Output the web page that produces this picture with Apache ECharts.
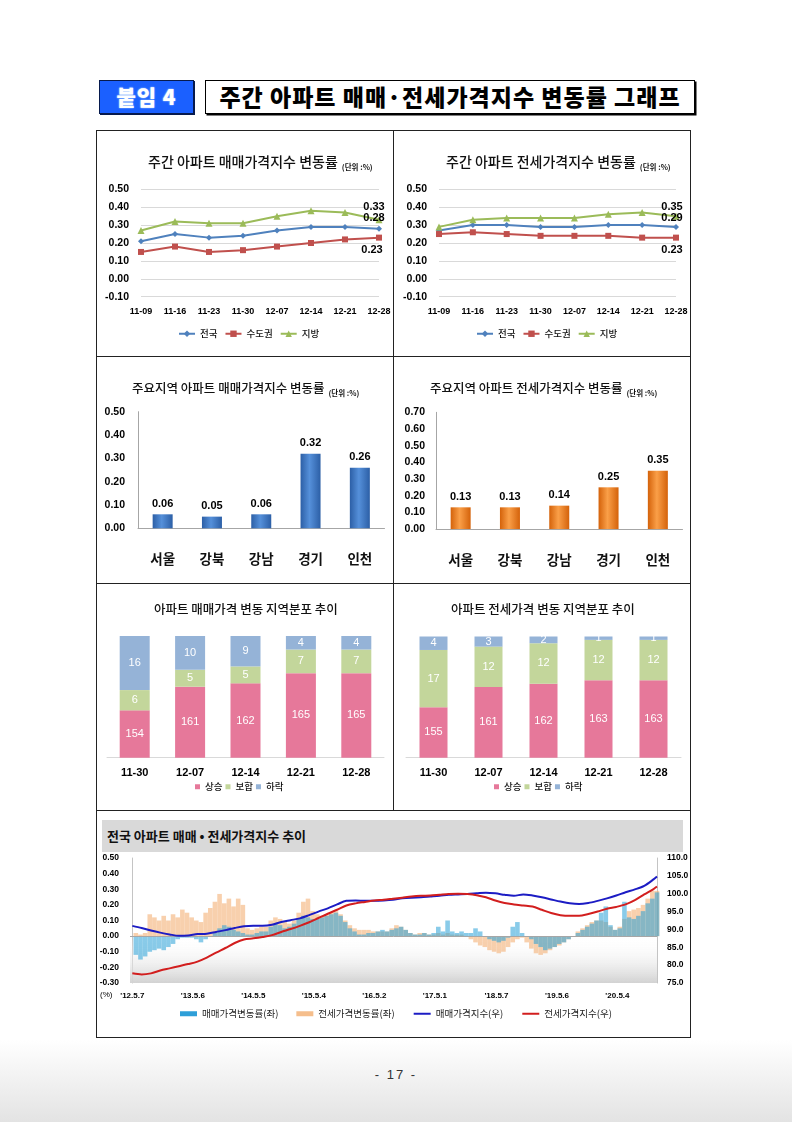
<!DOCTYPE html>
<html><head><meta charset="utf-8">
<script src="https://cdn.jsdelivr.net/npm/echarts@6/dist/echarts.min.js"></script>
<style>
html,body{margin:0;padding:0;background:#fff;}
#page{position:relative;width:792px;height:1122px;overflow:hidden;background:#fff;font-family:'Noto Sans CJK KR','Noto Sans',sans-serif;}
.abs{position:absolute;}
.badge{left:99px;top:80px;width:95px;height:34px;background:#1b60ff;border:1px solid #071a4d;box-sizing:border-box;box-shadow:1px 1px 0 #071a4d;color:#fff;font-weight:900;font-size:21px;line-height:31px;text-align:center;letter-spacing:1px;text-shadow:0 0 2px #7fb0ff,0 0 1px #cfe2ff;}
.hbox{left:205px;top:80px;width:490px;height:34px;border:1.5px solid #000;box-sizing:border-box;box-shadow:1.5px 1.5px 0 #000;background:#fff;color:#000;font-weight:900;font-size:23px;line-height:31px;text-align:center;letter-spacing:1px;}
.frame{left:96px;top:130px;width:595px;height:908px;border:1px solid #222;box-sizing:border-box;}
.vl{left:393px;top:130px;width:1px;height:680px;background:#222;}
.hl{left:96px;width:595px;height:1px;background:#222;}
.tbar{left:102px;top:820px;width:581px;height:32px;background:#d9d9d9;}
.ttxt{left:107px;top:820px;height:32px;line-height:32px;font-size:13px;font-weight:bold;color:#111;}
.foot{left:0;width:792px;top:1067px;text-align:center;font-family:'Liberation Sans',Arial,sans-serif;font-size:13px;color:#333;letter-spacing:2px;}
.shade{left:0;top:1040px;width:792px;height:82px;background:linear-gradient(to bottom,#ffffff,#e3e3e3);}
#chart{position:absolute;left:0;top:0;width:792px;height:1122px;}
</style></head>
<body><div id="page">
<div class="abs shade"></div>
<div class="abs badge">붙임 4</div>
<div class="abs hbox">주간 아파트 매매·전세가격지수 변동률 그래프</div>
<div class="abs frame"></div>
<div class="abs vl"></div>
<div class="abs hl" style="top:356px"></div>
<div class="abs hl" style="top:583px"></div>
<div class="abs hl" style="top:810px"></div>
<div class="abs tbar"></div>
<div class="abs ttxt">전국 아파트 매매 • 전세가격지수 추이</div>
<div class="abs foot">- 17 -</div>
<div id="chart"></div>
</div>
<script>
// ---------- data ----------
const lineCats = ['11-09','11-16','11-23','11-30','12-07','12-14','12-21','12-28'];
const saleNation = [0.21,0.25,0.23,0.24,0.27,0.29,0.29,0.28];
const saleMetro  = [0.15,0.18,0.15,0.16,0.18,0.20,0.22,0.23];
const saleLocal  = [0.27,0.32,0.31,0.31,0.35,0.38,0.37,0.33];
const jeonseNation = [0.27,0.30,0.30,0.29,0.29,0.30,0.30,0.29];
const jeonseMetro  = [0.25,0.26,0.25,0.24,0.24,0.24,0.23,0.23];
const jeonseLocal  = [0.29,0.33,0.34,0.34,0.34,0.36,0.37,0.35];

const regions = ['서울','강북','강남','경기','인천'];
const regionSale   = [0.06,0.05,0.06,0.32,0.26];
const regionJeonse = [0.13,0.13,0.14,0.25,0.35];

const distCats = ['11-30','12-07','12-14','12-21','12-28'];
const saleUp   = [154,161,162,165,165];
const saleFlat = [6,5,5,7,7];
const saleDown = [16,10,9,4,4];
const jeonseUp   = [155,161,162,163,163];
const jeonseFlat = [17,12,12,12,12];
const jeonseDown = [4,3,2,1,1];

// long-run chart: weeks counted from 2012-05-07
const trendTickWeeks  = [0,52,104,156,208,260,313,365,417];
const trendTickLabels = ["'12.5.7","'13.5.6","'14.5.5","'15.5.4","'16.5.2","'17.5.1","'18.5.7","'19.5.6","'20.5.4"];
const idxWeeks = [0,8,16,24,32,40,48,56,64,72,80,88,96,104,112,120,128,136,144,152,160,168,176,184,192,200,208,216,224,232,240,248,256,264,272,280,288,296,304,312,320,328,336,344,352,360,368,376,384,392,400,408,416,424,432,440,448,451];
const saleIndex = [91.0,90.4,89.7,89.1,88.6,88.2,88.3,88.7,88.8,89.3,
  89.8,90.4,90.9,91.0,91.0,91.3,92.1,92.6,93.1,94.0,
  95.0,95.9,97.0,98.0,98.1,98.0,98.0,98.1,98.3,98.7,
  98.9,99.0,99.2,99.4,99.7,99.8,99.9,100.1,100.3,100.1,
  99.7,99.4,99.8,99.5,99.0,98.4,97.8,97.3,97.1,97.4,
  98.0,98.7,99.5,100.4,101.2,102.2,104.0,104.8];
const jeonseIndex = [77.7,77.4,77.7,78.5,79.1,79.7,80.3,81.0,82.1,83.5,
  84.8,86.2,87.2,87.5,87.9,88.4,89.3,90.1,91.0,92.0,
  93.2,94.4,95.5,96.7,97.3,97.7,98.1,98.3,98.6,98.9,
  99.2,99.4,99.5,99.7,99.9,100.0,99.9,99.6,99.0,98.1,
  97.4,97.0,96.7,96.4,95.5,94.6,94.0,93.8,93.8,94.3,
  95.0,95.8,96.3,97.0,98.2,99.8,101.3,102.0];
const rateFirstWeek = 3, rateStepWeeks = 4;
const saleRate = [-0.12,-0.15,-0.13,-0.10,-0.09,-0.08,-0.09,-0.07,-0.05,-0.02,
  -0.01,-0.01,-0.01,-0.02,-0.04,-0.02,0.00,0.02,0.05,0.07,
  0.06,0.04,0.03,0.02,0.01,0.01,0.02,0.03,0.03,0.06,
  0.08,0.07,0.05,0.06,0.08,0.11,0.13,0.12,0.11,0.11,
  0.12,0.13,0.14,0.15,0.13,0.09,0.05,0.03,0.01,0.01,
  0.02,0.02,0.03,0.04,0.03,0.04,0.05,0.06,0.04,0.02,
  0.01,0.01,0.02,0.01,0.02,0.06,0.03,0.10,0.03,0.02,
  0.03,0.02,0.02,0.05,0.03,0.00,-0.02,-0.03,-0.04,-0.03,
  -0.01,0.06,0.09,0.02,0.00,-0.02,-0.05,-0.07,-0.09,-0.08,
  -0.07,-0.05,-0.04,-0.02,0.00,0.02,0.04,0.06,0.08,0.10,
  0.15,0.19,0.07,0.04,0.05,0.22,0.12,0.11,0.13,0.16,
  0.21,0.24,0.28];
const jeonseRate = [0.02,0.01,0.02,0.14,0.12,0.10,0.13,0.10,0.14,0.12,
  0.17,0.15,0.12,0.10,0.09,0.15,0.18,0.22,0.27,0.21,
  0.24,0.19,0.24,0.20,0.05,0.04,0.05,0.06,0.06,0.10,
  0.12,0.11,0.09,0.08,0.10,0.15,0.22,0.24,0.16,0.14,
  0.13,0.14,0.15,0.16,0.14,0.10,0.07,0.05,0.04,0.04,
  0.04,0.03,0.03,0.03,0.03,0.05,0.07,0.06,0.04,0.02,
  0.01,0.02,0.02,0.01,0.01,0.02,0.01,0.02,0.01,0.01,
  0.01,0.00,-0.02,-0.04,-0.06,-0.07,-0.09,-0.10,-0.11,-0.10,
  -0.07,-0.04,-0.02,-0.01,-0.04,-0.08,-0.11,-0.12,-0.11,-0.09,
  -0.07,-0.06,-0.04,-0.02,0.00,0.03,0.05,0.07,0.09,0.10,
  0.10,0.09,0.06,0.04,0.06,0.11,0.16,0.17,0.18,0.20,
  0.24,0.29,0.29];

// ---------- styles ----------
const NUM = "'Liberation Sans', Arial, sans-serif";
const KR = "'Noto Sans CJK KR', 'Noto Sans', sans-serif";
const C_BLUE = '#4F81BD', C_RED = '#C0504D', C_GREEN = '#9BBB59';
const C_UP = '#E6789A', C_FLAT = '#C3D69B', C_DOWN = '#95B3D7';

function lastLabel(arr, cfg) {
  return arr.map((v, i) => i === arr.length - 1 ? {
    value: v,
    label: Object.assign({show: true, fontFamily: NUM, fontWeight: 'bold', fontSize: 11, color: '#000',
      formatter: p => Number(p.value).toFixed(2)}, cfg)
  } : v);
}
function weeklyLine(name, data, color, symbol, size, axis, labelCfg) {
  return {type: 'line', name, xAxisIndex: axis, yAxisIndex: axis, data: lastLabel(data, labelCfg),
    symbol, symbolSize: size, showSymbol: true, lineStyle: {color, width: 2}, itemStyle: {color}, z: 3};
}
function lineXAxis(gi) {
  return {gridIndex: gi, type: 'category', data: lineCats, boundaryGap: false,
    axisLine: {show: false}, axisTick: {show: false}, splitLine: {show: false},
    axisLabel: {interval: 0, margin: 10, fontFamily: NUM, fontWeight: 'bold', fontSize: 9, color: '#000'}};
}
function lineYAxis(gi) {
  return {gridIndex: gi, type: 'value', min: -0.1, max: 0.5, interval: 0.1,
    axisLine: {show: false}, axisTick: {show: false},
    splitLine: {show: true, lineStyle: {color: '#D9D9D9', width: 1}},
    axisLabel: {margin: 12, fontFamily: NUM, fontWeight: 'bold', fontSize: 10.5, color: '#000', formatter: v => v.toFixed(2)}};
}
function regionXAxis(gi) {
  return {gridIndex: gi, type: 'category', data: regions,
    axisLine: {show: true, lineStyle: {color: '#A6A6A6'}}, axisTick: {show: false},
    axisLabel: {interval: 0, margin: 24, fontFamily: KR, fontWeight: 'bold', fontSize: 13.5, color: '#111'}};
}
function regionYAxis(gi, max, margin) {
  return {gridIndex: gi, type: 'value', min: 0, max, interval: 0.1,
    axisLine: {show: true, lineStyle: {color: '#A6A6A6'}}, axisTick: {show: false}, splitLine: {show: false},
    axisLabel: {margin, fontFamily: NUM, fontWeight: 'bold', fontSize: 10.5, color: '#000', formatter: v => v.toFixed(2)}};
}
function distXAxis(gi) {
  return {gridIndex: gi, type: 'category', data: distCats,
    axisLine: {show: true, lineStyle: {color: '#D9D9D9'}}, axisTick: {show: false},
    axisLabel: {interval: 0, margin: 10, fontFamily: NUM, fontWeight: 'bold', fontSize: 11, color: '#000'}};
}
function barGrad(edge, mid) {
  return {type: 'linear', x: 0, y: 0, x2: 1, y2: 0,
    colorStops: [{offset: 0, color: edge}, {offset: 0.45, color: mid}, {offset: 1, color: edge}]};
}
function regionBar(name, data, axis, edge, mid) {
  return {type: 'bar', name, xAxisIndex: axis, yAxisIndex: axis, data, barWidth: 20,
    itemStyle: {color: barGrad(edge, mid)},
    label: {show: true, position: 'top', distance: 5, fontFamily: NUM, fontWeight: 'bold', fontSize: 11, color: '#000',
      formatter: p => Number(p.value).toFixed(2)}};
}
function distBar(name, data, axis, stack, color, width) {
  return {type: 'bar', name, stack, xAxisIndex: axis, yAxisIndex: axis, data, barWidth: width,
    itemStyle: {color},
    label: {show: true, position: 'inside', color: '#fff', fontSize: 11,
      fontFamily: "'Liberation Sans Narrow', 'Liberation Sans', Arial, sans-serif"}};
}
function panelTitle(main, small, left, top, size) {
  return {text: '{m|' + main + '}' + (small ? ' {s|' + small + '}' : ''), left, top, padding: 0,
    textStyle: {rich: {
      m: {fontFamily: KR, fontSize: size, color: '#111', fontWeight: 500},
      s: {fontFamily: KR, fontSize: 7.5, color: '#111', verticalAlign: 'bottom'}}}};
}
const legendText = {fontFamily: KR, fontSize: 9.5, color: '#111', fontWeight: 500};

const rateData = arr => arr.map((v, i) => [rateFirstWeek + i * rateStepWeeks, v]);
const idxData = arr => arr.map((v, i) => [idxWeeks[i], v]);

const option = {
  animation: false,
  textStyle: {fontFamily: KR},
  title: [
    panelTitle('주간 아파트 매매가격지수 변동률', '(단위 :%)', 148, 153, 14),
    panelTitle('주간 아파트 전세가격지수 변동률', '(단위 :%)', 446, 153, 14),
    panelTitle('주요지역 아파트 매매가격지수 변동률', '(단위 :%)', 132, 379, 12.5),
    panelTitle('주요지역 아파트 전세가격지수 변동률', '(단위 :%)', 430, 379, 12.5),
    panelTitle('아파트 매매가격 변동 지역분포 추이', '', 154, 603, 12.5),
    panelTitle('아파트 전세가격 변동 지역분포 추이', '', 451, 603, 12.5)
  ],
  legend: [
    {data: ['전국', '수도권', '지방'], left: 178, top: 329, padding: 0, itemWidth: 16, itemHeight: 8, itemGap: 7, textStyle: legendText},
    {data: ['전국', '수도권', '지방'], left: 476, top: 329, padding: 0, itemWidth: 16, itemHeight: 8, itemGap: 7, textStyle: legendText},
    {data: ['상승', '보합', '하락'], left: 195, top: 782, padding: 0, icon: 'rect', itemWidth: 5, itemHeight: 5, itemGap: 3, textStyle: legendText},
    {data: ['상승', '보합', '하락'], left: 494, top: 782, padding: 0, icon: 'rect', itemWidth: 5, itemHeight: 5, itemGap: 3, textStyle: legendText},
    {data: [
        {name: '매매가격변동률(좌)', icon: 'rect', itemStyle: {color: '#2E9FD8', opacity: 1}},
        {name: '전세가격변동률(좌)', icon: 'rect', itemStyle: {color: '#F5BE8C', opacity: 1}},
        {name: '매매가격지수(우)', itemStyle: {opacity: 0}},
        {name: '전세가격지수(우)', itemStyle: {opacity: 0}}],
     left: 180, top: 1009, padding: 0, itemWidth: 17, itemHeight: 5, itemGap: 18,
     textStyle: {fontFamily: KR, fontSize: 9.5, color: '#222'}}
  ],
  grid: [
    {left: 141, top: 189.3, width: 238, height: 107.4, outerBoundsMode: 'none'},
    {left: 439, top: 189.3, width: 237, height: 107.4, outerBoundsMode: 'none'},
    {left: 138, top: 411.7, width: 246.5, height: 116.6, outerBoundsMode: 'none'},
    {left: 436, top: 412.3, width: 246.5, height: 116.7, outerBoundsMode: 'none'},
    {left: 107, top: 636, width: 277, height: 121.7, outerBoundsMode: 'none'},
    {left: 406, top: 636.5, width: 275, height: 121.2, outerBoundsMode: 'none'},
    {left: 130, top: 858, width: 527, height: 125, outerBoundsMode: 'none'}
  ],
  xAxis: [
    lineXAxis(0), lineXAxis(1), regionXAxis(2), regionXAxis(3), distXAxis(4), distXAxis(5),
    {gridIndex: 6, type: 'value', min: -2, max: 451,
      axisLine: {show: false}, axisTick: {show: false}, splitLine: {show: false},
      axisLabel: {customValues: trendTickWeeks, margin: 9, fontFamily: NUM, fontWeight: 'bold', fontSize: 8, color: '#000',
        formatter: v => { const k = trendTickWeeks.indexOf(v); return k >= 0 ? trendTickLabels[k] : ''; }}}
  ],
  yAxis: [
    lineYAxis(0), lineYAxis(1), regionYAxis(2, 0.5, 13), regionYAxis(3, 0.7, 11),
    {gridIndex: 4, type: 'value', min: 140, max: 176, show: false},
    {gridIndex: 5, type: 'value', min: 140, max: 176, show: false},
    {gridIndex: 6, type: 'value', min: -0.3, max: 0.5, interval: 0.1,
      axisLine: {show: true, lineStyle: {color: '#C4C4C4'}}, axisTick: {show: false}, splitLine: {show: false},
      axisLabel: {margin: 11, fontFamily: NUM, fontWeight: 'bold', fontSize: 8.5, color: '#000', formatter: v => v.toFixed(2)}},
    {gridIndex: 6, type: 'value', position: 'right', min: 75, max: 110, interval: 5,
      axisLine: {show: true, lineStyle: {color: '#C4C4C4'}}, axisTick: {show: false}, splitLine: {show: false},
      axisLabel: {margin: 10, fontFamily: NUM, fontWeight: 'bold', fontSize: 8.5, color: '#000', formatter: v => v.toFixed(1)}}
  ],
  graphic: [
    {type: 'text', left: 100, top: 991, style: {text: '(%)', font: "8px 'Liberation Sans', Arial", fill: '#000'}}
  ],
  series: [
    weeklyLine('전국', saleNation, C_BLUE, 'diamond', 6, 0, {position: 'top', distance: 2, offset: [-5, 0]}),
    weeklyLine('수도권', saleMetro, C_RED, 'rect', 6, 0, {position: 'bottom', distance: 4, offset: [-7, 0]}),
    weeklyLine('지방', saleLocal, C_GREEN, 'triangle', 7, 0, {position: 'top', distance: 4, offset: [-5, 0]}),
    weeklyLine('전국', jeonseNation, C_BLUE, 'diamond', 6, 1, {position: 'top', distance: 0, offset: [-4, 0]}),
    weeklyLine('수도권', jeonseMetro, C_RED, 'rect', 6, 1, {position: 'bottom', distance: 4, offset: [-4, 0]}),
    weeklyLine('지방', jeonseLocal, C_GREEN, 'triangle', 7, 1, {position: 'top', distance: 0, offset: [-4, 0]}),

    regionBar('지역 매매', regionSale, 2, '#2C5FA6', '#5590DA'),
    regionBar('지역 전세', regionJeonse, 3, '#D4620A', '#FA9F48'),

    distBar('상승', saleUp, 4, 'p5', C_UP, 30),
    distBar('보합', saleFlat, 4, 'p5', C_FLAT, 30),
    distBar('하락', saleDown, 4, 'p5', C_DOWN, 30),
    distBar('상승', jeonseUp, 5, 'p6', C_UP, 28),
    distBar('보합', jeonseFlat, 5, 'p6', C_FLAT, 28),
    distBar('하락', jeonseDown, 5, 'p6', C_DOWN, 28),

    {type: 'line', name: 'floor', xAxisIndex: 6, yAxisIndex: 6, data: [], z: 0, silent: true,
      markArea: {silent: true, data: [[{yAxis: 0}, {yAxis: -0.3}]],
        itemStyle: {color: {type: 'linear', x: 0, y: 0, x2: 0, y2: 1,
          colorStops: [{offset: 0, color: 'rgba(255,255,255,0)'}, {offset: 1, color: '#D2D2D2'}]}}},
      markLine: {silent: true, symbol: 'none', label: {show: false},
        lineStyle: {color: '#A6A6A6', width: 1, type: 'solid'}, data: [{yAxis: 0}]}},
    {type: 'bar', name: '전세가격변동률(좌)', xAxisIndex: 6, yAxisIndex: 6, data: rateData(jeonseRate),
      barWidth: 4.6, barGap: '-100%', itemStyle: {color: 'rgba(244,176,118,0.6)'}, z: 2},
    {type: 'bar', name: '매매가격변동률(좌)', xAxisIndex: 6, yAxisIndex: 6, data: rateData(saleRate),
      barWidth: 4.6, barGap: '-100%', itemStyle: {color: 'rgba(40,160,215,0.55)'}, z: 2},
    {type: 'line', name: '매매가격지수(우)', xAxisIndex: 6, yAxisIndex: 7, data: idxData(saleIndex),
      symbol: 'none', smooth: 0.3, lineStyle: {color: '#1C1CC4', width: 2}, itemStyle: {color: '#1C1CC4'}, z: 5},
    {type: 'line', name: '전세가격지수(우)', xAxisIndex: 6, yAxisIndex: 7, data: idxData(jeonseIndex),
      symbol: 'none', smooth: 0.3, lineStyle: {color: '#D21E1E', width: 2}, itemStyle: {color: '#D21E1E'}, z: 5}
  ]
};
const chart = echarts.init(document.getElementById('chart'), null, {renderer: 'canvas'});
chart.setOption(option);
</script>
</body></html>
